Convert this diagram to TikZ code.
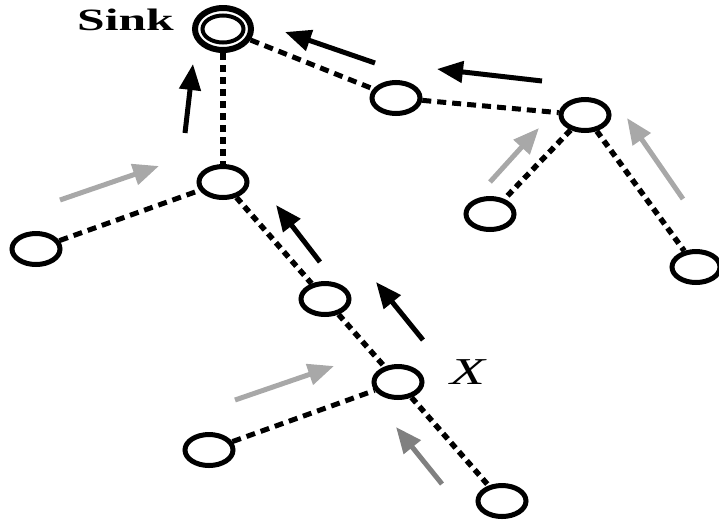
\documentclass[tikz,border=0pt]{standalone}
\usepackage{fontspec}
\setmainfont{Liberation Serif}
\usetikzlibrary{shapes.geometric,arrows.meta}
\definecolor{lightarrow}{HTML}{A8A8A8}
\definecolor{darkarrow}{HTML}{808080}
\begin{document}
\begin{tikzpicture}[x=1pt,y=-1pt,
  sensor/.style={ellipse,draw=black,line width=5pt,fill=white,minimum width=48pt,minimum height=31pt,inner sep=0pt},
  sinknode/.style={ellipse,draw=black,line width=6pt,fill=white,minimum width=56pt,minimum height=42pt,inner sep=0pt},
  link/.style={line width=5pt,dash pattern=on 9pt off 6pt},
  steeplink/.style={line width=5.5pt,dash pattern=on 7pt off 5pt},
  flow/.style={line width=5pt,-{Triangle[length=26pt,width=21pt]}},
  flowblack/.style={flow,draw=black},
  flowgray/.style={flow,draw=lightarrow},
  flowdark/.style={flow,draw=darkarrow}]
\useasboundingbox (0,0) rectangle (719,520);

% nodes of the routing tree
\node[sinknode] (sink) at (223,29) {};
\draw[line width=4pt] (sink.center) ellipse [x radius=20.5pt, y radius=13.5pt];
\node[sensor] (a) at (396,98) {};
\node[sensor] (b) at (585,115) {};
\node[sensor] (c) at (223,182) {};
\node[sensor] (d) at (36,249) {};
\node[sensor] (e) at (490,214) {};
\node[sensor] (f) at (696,267) {};
\node[sensor] (g) at (325,299) {};
\node[sensor] (x) at (398,382) {};
\node[sensor] (h) at (209,450) {};
\node[sensor] (i) at (502,501) {};

% tree edges
\draw[link] (sink) -- (a);
\draw[link] (a) -- (b);
\draw[steeplink] (sink) -- (c);
\draw[link] (d) -- (c);
\draw[steeplink] (b) -- (e);
\draw[steeplink] (b) -- (f);
\draw[steeplink] (c) -- (g);
\draw[steeplink] (g) -- (x);
\draw[link] (h) -- (x);
\draw[steeplink] (x) -- (i);

% data flow towards the sink
\draw[flowblack] (375,63) -- (285,32);
\draw[flowblack] (185,133) -- (193,64);
\draw[flowblack] (542,81) -- (437,69);
\draw[flowgray] (490,182) -- (539,128);
\draw[flowgray] (683,199) -- (627,118);
\draw[flowgray] (60,200) -- (159,166);
\draw[flowblack] (320,262) -- (276,205);
\draw[flowblack] (423,340) -- (376,282);
\draw[flowgray] (235,400) -- (334,366);
\draw[flowdark] (442,484) -- (396,427);

% labels
\node[inner sep=0pt,xscale=1.6,font=\fontsize{31pt}{31pt}\selectfont\bfseries] (sinklabel) at (125.5,20) {Sink};
\node[inner sep=0pt,xscale=1.5,font=\fontsize{38pt}{38pt}\selectfont\itshape] (xlabel) at (467.5,372.5) {X};
\end{tikzpicture}
\end{document}
